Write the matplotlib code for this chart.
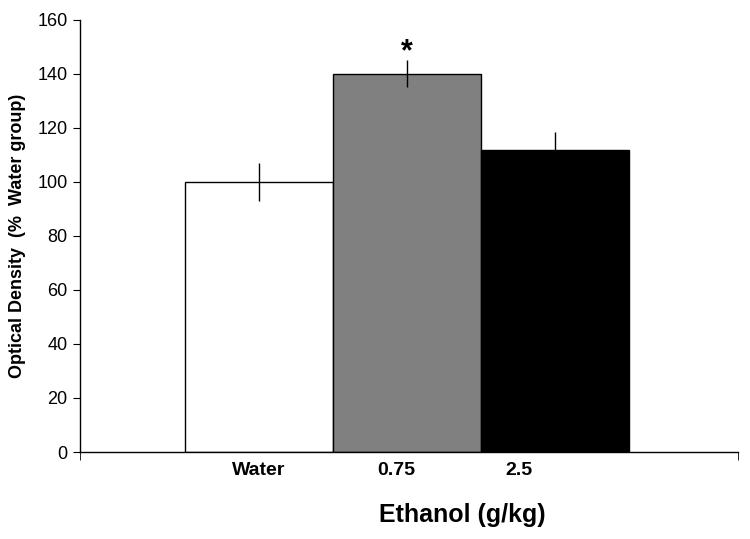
import matplotlib
matplotlib.use("Agg")
import matplotlib.pyplot as plt

categories = ["Water", "0.75", "2.5"]
values = [100, 140, 112]
errors = [7, 5, 6.5]
colors = ["white", "#808080", "black"]
label_pos = [0, 0.93, 1.76]
yticks = [0, 20, 40, 60, 80, 100, 120, 140, 160]

plt.rcParams['font.family'] = ['Liberation Sans', 'DejaVu Sans']
fig = plt.figure(figsize=(7.5, 5.39), dpi=100)
ax = fig.add_axes([0.1067, 0.1614, 0.8773, 0.8016])

x = list(range(len(categories)))
ax.bar(x, values, width=1.0, color=colors, edgecolor="black", linewidth=1.0, zorder=2)
ax.errorbar(x, values, yerr=errors, fmt="none", ecolor="black", elinewidth=1.0, capsize=0, zorder=3)
ax.text(1, 148, "*", ha="center", va="center", fontsize=22, fontweight="bold")

xmin, xmax = -1.21, 3.24
ax.set_xlim(xmin, xmax)
ax.set_ylim(0, 160)
ax.set_yticks(yticks)
ax.tick_params(axis="y", direction="out", length=5, labelsize=13, pad=4)
ax.set_xticks(label_pos)
ax.set_xticklabels(categories, fontsize=14, fontweight="bold")
ax.tick_params(axis="x", length=0, pad=7)
ax.set_xticks([xmin, xmax], minor=True)
ax.tick_params(axis="x", which="minor", length=6, direction="out")

for s in ["top", "right"]:
    ax.spines[s].set_visible(False)
ax.spines["left"].set_linewidth(1.0)
ax.spines["bottom"].set_linewidth(1.0)

ax.set_ylabel("Optical Density  (%  Water group)", fontsize=13, fontweight="bold", labelpad=8)
fig.text(462/750, 1-515/539, "Ethanol (g/kg)", ha="center", va="center", fontsize=18, fontweight="bold")

fig.savefig("out.png", dpi=100)
